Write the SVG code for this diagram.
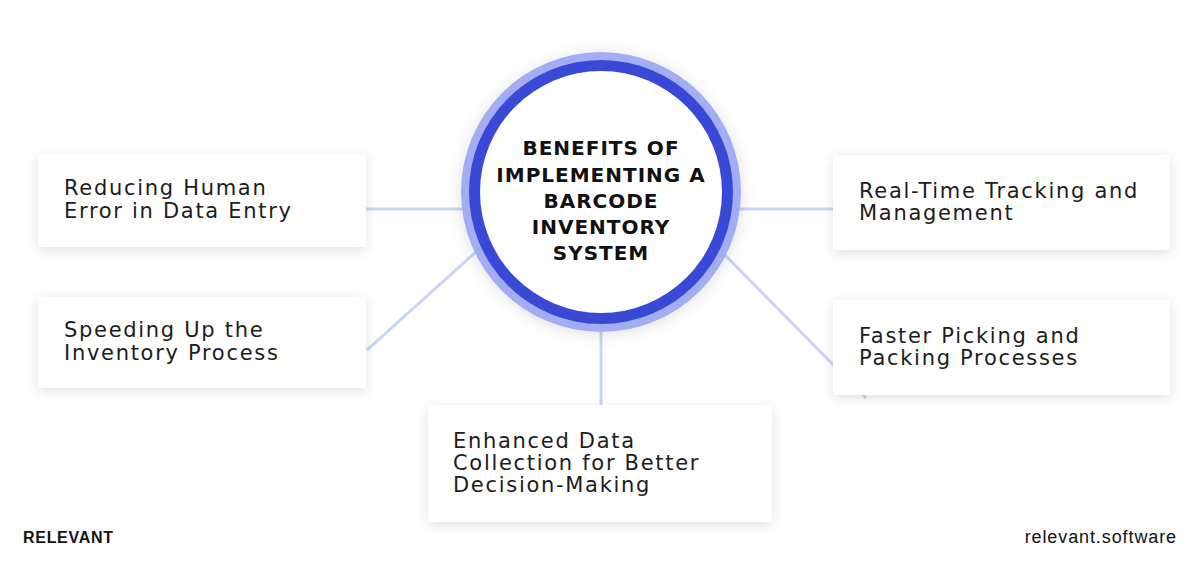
<svg xmlns="http://www.w3.org/2000/svg" width="1200" height="561" viewBox="0 0 1200 561">
  <defs>
    <filter id="sh" x="-20%" y="-30%" width="140%" height="160%">
      <feDropShadow dx="0" dy="3" stdDeviation="6" flood-color="#000" flood-opacity="0.12"/>
    </filter>
    <filter id="glow" x="-30%" y="-30%" width="160%" height="160%">
      <feDropShadow dx="0" dy="2" stdDeviation="8" flood-color="#000" flood-opacity="0.12"/>
    </filter>
  </defs>
  <style>
    .box { fill: #ffffff; filter: url(#sh); }
    .t { font-family: "DejaVu Sans", "Liberation Sans", sans-serif; font-size: 21px; letter-spacing: 1.7px; fill: #1c1c1c; }
    .c { font-family: "DejaVu Sans", "Liberation Sans", sans-serif; font-weight: bold; font-size: 20px; letter-spacing: 1px; fill: #111; text-anchor: middle; }
    .conn { stroke: #c9d5f6; stroke-width: 3; fill: none; }
    .foot { font-family: "Liberation Sans", "DejaVu Sans", sans-serif; fill: #111; }
  </style>
  <rect width="1200" height="561" fill="#ffffff"/>

  <g id="connectors">
    <line class="conn" x1="366" y1="209" x2="470" y2="209"/>
    <line class="conn" x1="367" y1="350" x2="478" y2="250"/>
    <line class="conn" x1="732" y1="209" x2="833" y2="209"/>
    <line class="conn" x1="722" y1="252" x2="866" y2="398"/>
    <line class="conn" x1="601" y1="325" x2="601" y2="406"/>
  </g>

  <g id="center">
    <circle cx="601" cy="192" r="140" fill="#a3adf4" filter="url(#glow)"/>
    <circle cx="601" cy="192" r="132" fill="#3a48d6"/>
    <circle cx="601" cy="192" r="121" fill="#ffffff"/>
    <text class="c" x="601" y="155">BENEFITS OF</text>
    <text class="c" x="601" y="182">IMPLEMENTING A</text>
    <text class="c" x="601" y="208">BARCODE</text>
    <text class="c" x="601" y="234">INVENTORY</text>
    <text class="c" x="601" y="260">SYSTEM</text>
  </g>

  <g id="node-reducing">
    <rect class="box" x="38" y="154" width="328" height="93" rx="3"/>
    <text class="t" x="64" y="195">Reducing Human</text>
    <text class="t" x="64" y="218">Error in Data Entry</text>
  </g>

  <g id="node-speeding">
    <rect class="box" x="38" y="297" width="328" height="91" rx="3"/>
    <text class="t" x="64" y="337">Speeding Up the</text>
    <text class="t" x="64" y="360">Inventory Process</text>
  </g>

  <g id="node-realtime">
    <rect class="box" x="833" y="155" width="337" height="95" rx="3"/>
    <text class="t" x="859" y="198">Real-Time Tracking and</text>
    <text class="t" x="859" y="220">Management</text>
  </g>

  <g id="node-faster">
    <rect class="box" x="833" y="300" width="337" height="95" rx="3"/>
    <text class="t" x="859" y="343">Faster Picking and</text>
    <text class="t" x="859" y="365">Packing Processes</text>
  </g>

  <g id="node-enhanced">
    <rect class="box" x="428" y="405" width="344" height="117" rx="3"/>
    <text class="t" x="453" y="448">Enhanced Data</text>
    <text class="t" x="453" y="470">Collection for Better</text>
    <text class="t" x="453" y="492">Decision-Making</text>
  </g>

  <g id="footer">
    <text class="foot" x="23" y="543" font-size="16" font-weight="bold" letter-spacing="0.7">RELEVANT</text>
    <text class="foot" x="1177" y="543" font-size="18" letter-spacing="0.9" text-anchor="end">relevant.software</text>
  </g>
</svg>
